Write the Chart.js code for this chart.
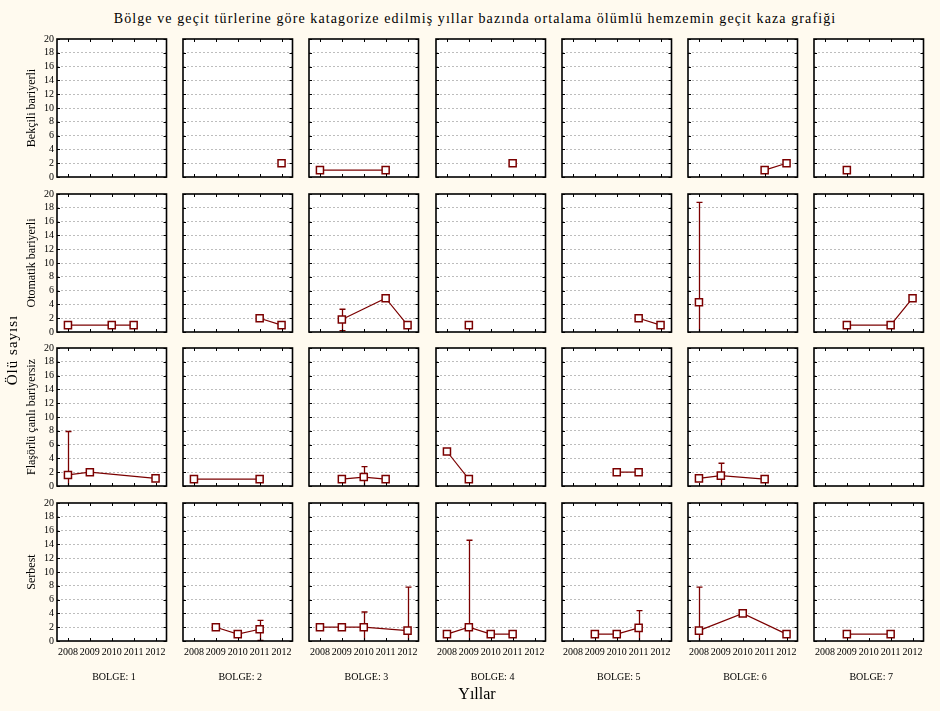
<!DOCTYPE html>
<html>
<head>
<meta charset="utf-8">
<script src="https://cdn.jsdelivr.net/npm/chart.js@4"></script>
<style>
  body { margin: 0; background: #fffaef; }
  #wrap { position: relative; width: 940px; height: 711px; background: #fffaef; font-family: 'Liberation Serif', 'DejaVu Serif', serif; color: #000; overflow: hidden; }
  #wrap canvas { position: absolute; }
  .txt { position: absolute; white-space: nowrap; }
</style>
</head>
<body>
<div id="wrap"></div>
<script>
// yıllar ve bölgeler
const years = ['2008', '2009', '2010', '2011', '2012'];
const bolgeler = ['BOLGE: 1', 'BOLGE: 2', 'BOLGE: 3', 'BOLGE: 4', 'BOLGE: 5', 'BOLGE: 6', 'BOLGE: 7'];
const gecitTurleri = ['Bekçili bariyerli', 'Otomatik bariyerli', 'Flaşörlü çanlı bariyersiz', 'Serbest'];
const yTicks = [0, 2, 4, 6, 8, 10, 12, 14, 16, 18, 20];

// ortalama ölü sayısı (her satır bir bölge, sütunlar 2008..2012)
const bekciliOrt = [
  [null, null, null, null, null],
  [null, null, null, null, 2],
  [1, null, null, 1, null],
  [null, null, null, 2, null],
  [null, null, null, null, null],
  [null, null, null, 1, 2],
  [null, 1, null, null, null]
];
const otomatikOrt = [
  [1, null, 1, 1, null],
  [null, null, null, 2, 1],
  [null, 1.8, null, 4.9, 1],
  [null, 1, null, null, null],
  [null, null, null, 2, 1],
  [4.3, null, null, null, null],
  [null, 1, null, 1, 4.9]
];
const flasorluOrt = [
  [1.6, 2, null, null, 1.1],
  [1, null, null, 1, null],
  [null, 1, 1.3, 1, null],
  [5, 1, null, null, null],
  [null, null, 2, 2, null],
  [1.1, 1.5, null, 1, null],
  [null, null, null, null, null]
];
const serbestOrt = [
  [null, null, null, null, null],
  [null, 2, 1, 1.7, null],
  [2, 2, 2, null, 1.5],
  [1, 2, 1, 1, null],
  [null, 1, 1, 1.9, null],
  [1.5, null, 4, null, 1],
  [null, 1, null, 1, null]
];

// hata çubukları [alt, üst]
const otomatikHata = [
  [null, null, null, null, null],
  [null, null, null, null, null],
  [null, [0.2, 3.3], null, null, null],
  [null, null, null, null, null],
  [null, null, null, null, null],
  [[-10, 18.8], null, null, null, null],
  [null, null, null, null, null]
];
const flasorluHata = [
  [[-4.7, 7.9], null, null, null, null],
  [null, null, null, null, null],
  [null, null, [-0.3, 2.8], null, null],
  [null, null, null, null, null],
  [null, null, null, null, null],
  [null, [-0.3, 3.3], null, null, null],
  [null, null, null, null, null]
];
const serbestHata = [
  [null, null, null, null, null],
  [null, null, null, [0.1, 3.0], null],
  [null, null, [-0.2, 4.2], null, [-4.8, 7.8]],
  [null, [-10.6, 14.6], null, null, null],
  [null, null, null, [-0.6, 4.4], null],
  [[-4.8, 7.8], null, null, null, null],
  [null, null, null, null, null]
];

const rows = [
  { ort: bekciliOrt, hata: null },
  { ort: otomatikOrt, hata: otomatikHata },
  { ort: flasorluOrt, hata: flasorluHata },
  { ort: serbestOrt, hata: serbestHata }
];

const RED = '#7b0000';
const wrap = document.getElementById('wrap');
const plotW = 114, plotH = 138;
const padTop = 8;
const colLeft = c => 57 + c * 126.2;
const rowTop = r => 39 + r * 154.7;

function addText(text, css) {
  const d = document.createElement('div');
  d.className = 'txt';
  d.textContent = text;
  Object.assign(d.style, css);
  wrap.appendChild(d);
  return d;
}

// panel arka planı, çerçeve ve iç tik çizgileri
const panelFrame = {
  id: 'panelFrame',
  beforeDraw(chart) {
    const { ctx, chartArea: a } = chart;
    ctx.save();
    ctx.fillStyle = '#ffffff';
    ctx.fillRect(a.left, a.top, a.right - a.left, a.bottom - a.top);
    ctx.restore();
  },
  afterDraw(chart) {
    const { ctx, chartArea: a, scales } = chart;
    ctx.save();
    ctx.strokeStyle = '#000';
    ctx.lineWidth = 1;
    ctx.beginPath();
    yTicks.forEach(v => {
      const y = Math.round(scales.y.getPixelForValue(v)) + 0.5;
      ctx.moveTo(a.left, y); ctx.lineTo(a.left + 3, y);
      ctx.moveTo(a.right, y); ctx.lineTo(a.right - 3, y);
    });
    years.forEach((yr, i) => {
      const x = Math.round(scales.x.getPixelForValue(i)) + 0.5;
      ctx.moveTo(x, a.top); ctx.lineTo(x, a.top + 3);
      ctx.moveTo(x, a.bottom); ctx.lineTo(x, a.bottom - 3);
    });
    ctx.stroke();
    ctx.lineWidth = 1.6;
    ctx.strokeRect(a.left, a.top, a.right - a.left, a.bottom - a.top);
    ctx.restore();
  }
};

// hata çubukları
const errorBars = {
  id: 'errorBars',
  beforeDatasetsDraw(chart, args, opts) {
    const errs = opts.errs;
    if (!errs) return;
    const { ctx, chartArea: a, scales } = chart;
    ctx.save();
    ctx.beginPath();
    ctx.rect(a.left, a.top, a.right - a.left, a.bottom - a.top);
    ctx.clip();
    ctx.strokeStyle = RED;
    ctx.lineWidth = 1.3;
    errs.forEach((e, i) => {
      if (!e) return;
      const x = Math.round(scales.x.getPixelForValue(i)) + 0.5;
      const yLo = scales.y.getPixelForValue(e[0]);
      const yHi = scales.y.getPixelForValue(e[1]);
      ctx.beginPath();
      ctx.moveTo(x, yLo); ctx.lineTo(x, yHi);
      ctx.moveTo(x - 3, yHi); ctx.lineTo(x + 3, yHi);
      if (e[0] >= 0) { ctx.moveTo(x - 3, yLo); ctx.lineTo(x + 3, yLo); }
      ctx.stroke();
    });
    ctx.restore();
  }
};

rows.forEach((row, r) => {
  row.ort.forEach((vals, c) => {
    const left = Math.round(colLeft(c)) - 26;
    const top = Math.round(rowTop(r)) - padTop;
    const cv = document.createElement('canvas');
    cv.width = plotW + 28; cv.height = plotH + padTop + 24;
    cv.style.left = left + 'px'; cv.style.top = top + 'px';
    wrap.appendChild(cv);
    const showY = c === 0, showX = r === rows.length - 1;
    new Chart(cv.getContext('2d'), {
      type: 'line',
      data: {
        labels: years,
        datasets: [{
          data: vals,
          borderColor: RED,
          borderWidth: 1.2,
          spanGaps: true,
          pointStyle: 'rect',
          pointRadius: 5,
          pointBorderWidth: 1.5,
          pointBorderColor: RED,
          pointBackgroundColor: '#ffffff'
        }]
      },
      options: {
        responsive: false,
        animation: false,
        devicePixelRatio: 1,
        layout: { padding: { top: padTop, right: 2, left: 2, bottom: 2 } },
        plugins: {
          legend: { display: false },
          tooltip: { enabled: false },
          errorBars: { errs: row.hata ? row.hata[c] : null }
        },
        scales: {
          x: {
            offset: true,
            grid: { display: false, drawTicks: false },
            border: { display: false },
            ticks: { display: showX, maxRotation: 0, autoSkip: false, padding: 5, color: '#000', font: { family: 'Liberation Serif', size: 10 } },
            afterFit: s => { s.height = 22; s.paddingLeft = 0; s.paddingRight = 0; }
          },
          y: {
            min: 0, max: 20,
            grid: {
              drawTicks: false,
              color: ctx => (ctx.tick && ctx.tick.value > 0 && ctx.tick.value < 20) ? '#bdbdbd' : 'rgba(0,0,0,0)',
              lineWidth: 1
            },
            border: { display: false, dash: [2, 2] },
            ticks: { display: showY, stepSize: 2, autoSkip: false, padding: 3, color: '#000', font: { family: 'Liberation Serif', size: 10 } },
            afterFit: s => { s.width = 24; s.paddingTop = 0; s.paddingBottom = 0; }
          }
        }
      },
      plugins: [panelFrame, errorBars]
    });
  });
});

// başlık ve eksen yazıları
addText('Bölge ve geçit türlerine göre katagorize edilmiş yıllar bazında ortalama ölümlü hemzemin geçit kaza grafiği',
  { left: '0px', width: '950px', textAlign: 'center', top: '11px', fontSize: '14px', letterSpacing: '1.1px' });

gecitTurleri.forEach((t, r) => {
  const cy = rowTop(r) + plotH / 2;
  addText(t, { left: '31px', top: cy + 'px', fontSize: '12px', transform: 'translate(-50%, -50%) rotate(-90deg)' });
});

addText('Ölü sayısı', { left: '12px', top: '350px', fontSize: '15px', transform: 'translate(-50%, -50%) rotate(-90deg)', letterSpacing: '1px' });

bolgeler.forEach((b, c) => {
  addText(b, { left: (colLeft(c) + plotW / 2) + 'px', top: '676px', fontSize: '10px', transform: 'translate(-50%, -50%)' });
});

addText('Yıllar', { left: '477px', top: '694px', fontSize: '16px', transform: 'translate(-50%, -50%)' });
</script>
</body>
</html>
